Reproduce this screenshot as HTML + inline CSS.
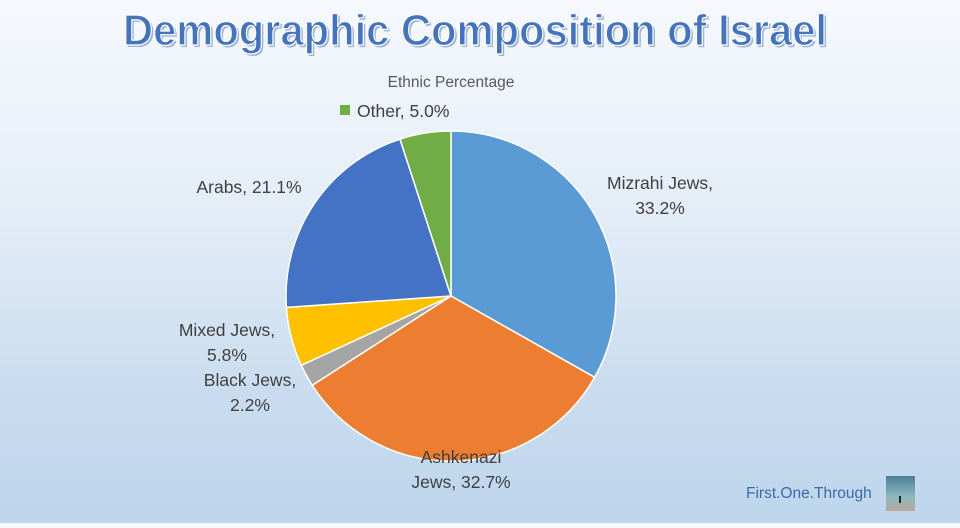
<!DOCTYPE html>
<html><head><meta charset="utf-8"><style>
html,body{margin:0;padding:0}
body{width:960px;height:523px;overflow:hidden;background:linear-gradient(180deg,#f6f9fd 0%,#e4edf7 40%,#c9dcef 75%,#bdd5ec 100%);font-family:"Liberation Sans",sans-serif}
</style></head><body>
<svg width="960" height="523" xmlns="http://www.w3.org/2000/svg">
<text x="475" y="45" text-anchor="middle" font-size="44" font-weight="bold" fill="#9fb5d4" textLength="704" lengthAdjust="spacingAndGlyphs" transform="translate(2,2)">Demographic Composition of Israel</text>
<text x="475" y="45" text-anchor="middle" font-size="44" font-weight="bold" fill="#4574bd" stroke="#ffffff" stroke-width="1.2" textLength="704" lengthAdjust="spacingAndGlyphs">Demographic Composition of Israel</text>
<text x="451" y="87" text-anchor="middle" font-size="15.5" fill="#595959">Ethnic Percentage</text>
<rect x="340" y="105" width="10" height="10" fill="#70ad47"/>
<text x="357" y="117" font-size="17.5" fill="#404040">Other, 5.0%</text>
<g stroke="#ffffff" stroke-width="1.5" stroke-linejoin="round">
<path d="M451,296 L451,131 A165,165 0 0 1 594.6,377.3 Z" fill="#5b9bd5"/>
<path d="M451,296 L594.6,377.3 A165,165 0 0 1 312.2,385.3 Z" fill="#ed7d31"/>
<path d="M451,296 L312.2,385.3 A165,165 0 0 1 301.3,365.3 Z" fill="#a5a5a5"/>
<path d="M451,296 L301.3,365.3 A165,165 0 0 1 286.4,307.4 Z" fill="#ffc000"/>
<path d="M451,296 L286.4,307.4 A165,165 0 0 1 400.0,139.1 Z" fill="#4472c4"/>
<path d="M451,296 L400.0,139.1 A165,165 0 0 1 451,131 Z" fill="#70ad47"/>
</g>
<g font-size="17.5" fill="#404040" text-anchor="middle">
<text x="660" y="189">Mizrahi Jews,</text>
<text x="660" y="214">33.2%</text>
<text x="249" y="193">Arabs, 21.1%</text>
<text x="227" y="336">Mixed Jews,</text>
<text x="227" y="361">5.8%</text>
<text x="250" y="386">Black Jews,</text>
<text x="250" y="411">2.2%</text>
<text x="461" y="463">Ashkenazi</text>
<text x="461" y="488">Jews, 32.7%</text>
</g>
<text x="746" y="498" font-size="15.5" fill="#3d6aa8">First.One.Through</text>
<defs><linearGradient id="ph" x1="0" y1="0" x2="0" y2="1"><stop offset="0" stop-color="#4a7f95"/><stop offset=".6" stop-color="#8fb8c0"/><stop offset="1" stop-color="#b9a89a"/></linearGradient></defs>
<rect x="886" y="476" width="29" height="35" fill="url(#ph)"/>
<rect x="899" y="496" width="2" height="7" fill="#223"/>
</svg>
</body></html>
